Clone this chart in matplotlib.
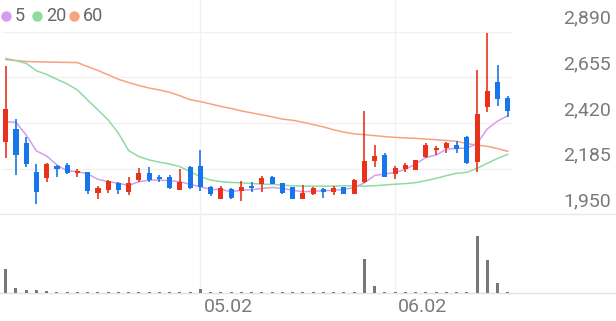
import matplotlib
matplotlib.use("Agg")
import matplotlib.pyplot as plt
from matplotlib.lines import Line2D
import numpy as np

plt.rcParams['font.family'] = ['Roboto', 'DejaVu Sans']

# ---------------- data ----------------
opens = [2321, 2389, 2315, 2170, 2139, 2201, 2204, 2161, 2166, 2062,
         2077, 2113, 2066, 2124, 2161, 2140, 2144, 2074, 2195, 2201,
         2088, 2031, 2078, 2071, 2097, 2106, 2144, 2109, 2088, 2031,
         2057, 2078, 2066, 2088, 2057, 2114, 2225, 2255, 2158, 2183,
         2178, 2247, 2281, 2290, 2307, 2350, 2218, 2504, 2633, 2547]
closes = [2490, 2255, 2209, 2063, 2209, 2182, 2161, 2175, 2072, 2084,
          2120, 2075, 2109, 2161, 2126, 2130, 2083, 2118, 2083, 2092,
          2054, 2083, 2035, 2088, 2087, 2135, 2106, 2061, 2031, 2062,
          2083, 2066, 2086, 2052, 2126, 2225, 2251, 2144, 2187, 2204,
          2230, 2307, 2293, 2315, 2288, 2213, 2466, 2586, 2542, 2484]
highs = [2713, 2442, 2350, 2209, 2213, 2206, 2216, 2185, 2168, 2098,
         2129, 2118, 2140, 2187, 2195, 2152, 2152, 2183, 2199, 2282,
         2095, 2095, 2083, 2123, 2118, 2147, 2147, 2112, 2088, 2100,
         2088, 2083, 2095, 2088, 2131, 2480, 2308, 2264, 2201, 2216,
         2230, 2315, 2303, 2321, 2329, 2353, 2693, 2881, 2718, 2559]
lows = [2242, 2153, 2195, 2002, 2115, 2140, 2157, 2144, 2055, 2029,
        2058, 2055, 2048, 2118, 2114, 2118, 2080, 2074, 2078, 2071,
        2043, 2028, 2031, 2019, 2066, 2066, 2106, 2057, 2028, 2031,
        2048, 2036, 2048, 2052, 2054, 2109, 2195, 2144, 2130, 2166,
        2178, 2238, 2255, 2267, 2267, 2209, 2170, 2478, 2508, 2449]
ma5 = [2427, 2424, 2358, 2276, 2250, 2204, 2173, 2170, 2158, 2130,
       2118, 2110, 2098, 2118, 2126, 2126, 2123, 2118, 2104, 2092,
       2078, 2078, 2066, 2074, 2076, 2083, 2088, 2083, 2074, 2066,
       2069, 2071, 2074, 2078, 2088, 2112, 2150, 2158, 2165, 2182,
       2209, 2243, 2255, 2285, 2290, 2290, 2315, 2390, 2430, 2458]
ma20 = [2753, 2741, 2727, 2689, 2670, 2645, 2621, 2590, 2538, 2487,
        2436, 2367, 2278, 2247, 2230, 2218, 2209, 2195, 2169, 2144,
        2126, 2118, 2114, 2112, 2109, 2105, 2104, 2100, 2097, 2095,
        2095, 2095, 2095, 2097, 2097, 2095, 2097, 2101, 2105, 2108,
        2113, 2123, 2135, 2149, 2161, 2166, 2187, 2213, 2238, 2259]
ma60 = [2746, 2741, 2737, 2735, 2734, 2733, 2732, 2731, 2710, 2690,
        2668, 2645, 2628, 2613, 2600, 2590, 2578, 2560, 2540, 2530,
        2518, 2505, 2495, 2482, 2472, 2462, 2452, 2440, 2434, 2424,
        2412, 2400, 2385, 2373, 2364, 2360, 2355, 2350, 2346, 2343,
        2341, 2337, 2334, 2330, 2326, 2314, 2306, 2300, 2288, 2274]
volumes = [240, 50, 30, 30, 22, 17, 17, 17, 17, 17,
           17, 17, 17, 17, 17, 17, 17, 17, 17, 40,
           17, 17, 17, 17, 17, 17, 17, 17, 17, 17,
           17, 17, 17, 17, 17, 340, 76, 18, 17, 17,
           17, 17, 17, 17, 17, 17, 576, 333, 100, 17]
price_ticks = [1950, 2185, 2420, 2655, 2890]
date_labels = ["05.02", "06.02"]
date_index = [19, 38]
ma_names = ["5", "20", "60"]

# ---------------- styles ----------------
W, H = 616, 321
UP = '#e8331c'
DOWN = '#1677ea'
MA_COLORS = ['#d59cf0', '#90dca0', '#f8a380']
GRID = '#f1f1f1'
TXT = '#7a7a7a'

fig = plt.figure(figsize=(W / 100, H / 100), dpi=100)

def fx(px):
    return px / W

def fy(py):
    return 1 - py / H

n = len(opens)
x = np.arange(n)
x_left = -0.556
x_right = 49.4
price_top_px, price_bot_px = 31.7, 214.3
vol_top_px, vol_bot_px = 222.0, 293.3
plot_right_px = 512

ax = fig.add_axes([0, fy(price_bot_px), fx(plot_right_px), (price_bot_px - price_top_px) / H])
axv = fig.add_axes([0, fy(vol_bot_px), fx(plot_right_px), (vol_bot_px - vol_top_px) / H])
for a in (ax, axv):
    a.set_xlim(x_left, x_right)
    a.axis('off')
ax.set_ylim(price_ticks[0], price_ticks[-1])
axv.set_ylim(0, 713)

# horizontal gridlines
for t in price_ticks[1:]:
    ax.axhline(t, xmin=3 / plot_right_px, xmax=1, color=GRID, lw=1, zorder=0)
fig.add_artist(Line2D([0, 1], [fy(price_bot_px)] * 2, color='#e9e9e9', lw=1, zorder=0))
fig.add_artist(Line2D([0, 1], [fy(vol_bot_px)] * 2, color='#e3e3e3', lw=1, zorder=0))

# vertical date gridlines
for di in date_index:
    px = 5.7 + 10.25 * di
    fig.add_artist(Line2D([fx(px)] * 2, [fy(vol_bot_px), 1], color=GRID, lw=1, zorder=0))

# moving averages
for vals, c in zip([ma60, ma20, ma5], [MA_COLORS[2], MA_COLORS[1], MA_COLORS[0]]):
    ax.plot(x, vals, color=c, lw=1.1, zorder=2, solid_capstyle='round')

# candles
o = np.array(opens); c = np.array(closes)
colors = [UP if cc >= oo else DOWN for oo, cc in zip(o, c)]
ax.vlines(x, lows, highs, colors=colors, lw=1.2, zorder=3)
bottoms = np.minimum(o, c)
heights = np.maximum(np.abs(c - o), 7)
ax.bar(x, heights, bottom=bottoms, width=0.5, color=colors, zorder=4, linewidth=0)

# volume
axv.bar(x, volumes, width=0.3, color='#777777', linewidth=0)

# price labels
for t in price_ticks:
    py = price_top_px + (price_ticks[-1] - t) / (price_ticks[-1] - price_ticks[0]) * (price_bot_px - price_top_px)
    fig.text(fx(611), fy(py - 13), f"{t:,}", ha='right', va='center', fontsize=14, color=TXT)

# date labels
for lab, di in zip(date_labels, date_index):
    px = 5.7 + 10.25 * di
    fig.text(fx(px + 3), fy(307), lab, ha='left', va='center', fontsize=14, color=TXT)

# legend
leg_items = [(5.7, 15, ma_names[0], MA_COLORS[0]), (37, 46, ma_names[1], MA_COLORS[1]), (74, 83, ma_names[2], MA_COLORS[2])]
for cx, tx, lab, col in leg_items:
    fig.add_artist(Line2D([fx(cx)], [fy(15.7)], marker='o', markersize=6.5, color=col, linestyle='none'))
    fig.text(fx(tx), fy(15.7), lab, ha='left', va='center', fontsize=13, color='#666666')

fig.savefig('out.png', dpi=100)
